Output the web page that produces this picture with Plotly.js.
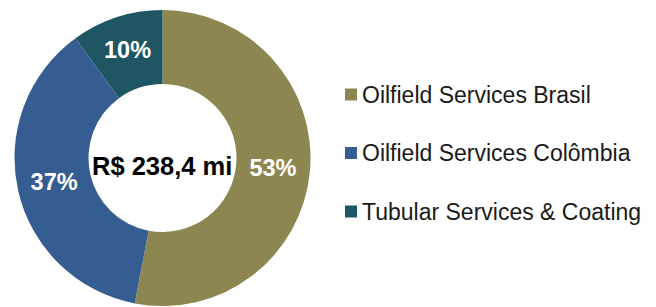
<!DOCTYPE html>
<html>
<head>
<meta charset="utf-8">
<script src="https://cdn.plot.ly/plotly-3.0.1.min.js"></script>
<style>html,body{margin:0;padding:0;background:#fff;}#chart{width:656px;height:307px;}</style>
</head>
<body>
<div id="chart"></div>
<script>
const categories = ["Oilfield Services Brasil", "Oilfield Services Colômbia", "Tubular Services & Coating"];
const shares = [53, 37, 10];
const colors = ["#8E8650", "#355D91", "#1F5663"];
const centerLabel = "R$ 238,4 mi";

const W = 656, H = 307;
const px = x => x / W;
const py = y => 1 - y / H;

const trace = {
  type: "pie",
  labels: categories,
  values: shares,
  sort: false,
  direction: "clockwise",
  rotation: 0,
  hole: 0.5,
  marker: {colors: colors, line: {width: 0}},
  textinfo: "percent",
  texttemplate: "%{percent:.0%}",
  textposition: "inside",
  insidetextorientation: "horizontal",
  textfont: {family: "Liberation Sans, Arial, sans-serif", size: 23.5, color: "#ffffff", weight: "bold"},
  domain: {x: [px(14), px(311)], y: [py(306), py(10)]},
  showlegend: false,
  hoverinfo: "label+percent"
};

const legendTop = 94.5, legendGap = 58.5;
const annotations = [{
  text: "<b>" + centerLabel + "</b>",
  x: px(162), y: py(165.5), xref: "paper", yref: "paper",
  showarrow: false, xanchor: "center", yanchor: "middle",
  font: {family: "Liberation Sans, Arial, sans-serif", size: 25.5, color: "#000000"}
}];
const shapes = [];
categories.forEach((c, i) => {
  const cy = legendTop + i * legendGap;
  shapes.push({type: "rect", xref: "paper", yref: "paper",
    x0: px(345), x1: px(357), y0: py(cy - 6), y1: py(cy + 6),
    fillcolor: colors[i], line: {width: 0}});
  annotations.push({text: c, x: px(360), y: py(cy), xref: "paper", yref: "paper",
    showarrow: false, xanchor: "left", yanchor: "middle",
    font: {family: "Liberation Sans, Arial, sans-serif", size: 23, color: "#1a1a1a"}});
});

const layout = {
  width: W, height: H,
  margin: {l: 0, r: 0, t: 0, b: 0},
  paper_bgcolor: "#ffffff",
  showlegend: false,
  annotations: annotations,
  shapes: shapes
};
Plotly.newPlot("chart", [trace], layout, {displayModeBar: false, staticPlot: true});
</script>
</body>
</html>
